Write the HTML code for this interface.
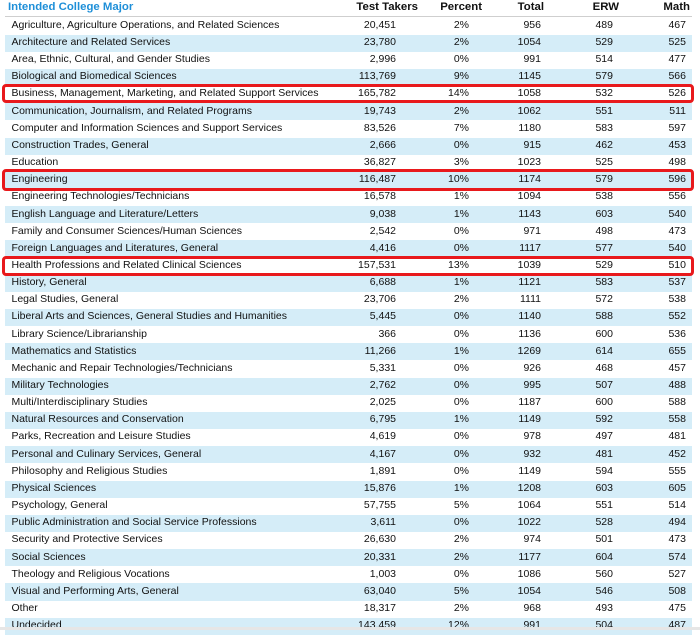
<!DOCTYPE html>
<html>
<head>
<meta charset="utf-8">
<style>
html,body{margin:0;padding:0;background:#fff;}
body{width:700px;height:630px;position:relative;overflow:hidden;font-family:"Liberation Sans",Arial,sans-serif;color:#111;}
.hd{position:absolute;left:5px;width:687px;top:-1px;height:16px;line-height:16px;font-size:11.4px;font-weight:bold;}
.hd span{position:absolute;top:0;white-space:nowrap;}
.hline{position:absolute;left:5px;width:687px;top:16px;height:1px;background:#cfcfcf;}
.r{position:absolute;left:5px;width:687px;height:17.15px;line-height:17.15px;font-size:10.5px;}
.r span{position:absolute;top:-0.6px;white-space:nowrap;}
.b{background:#d5edf8;}
.l{left:6.5px;}
.c1{right:296px;}
.c2{right:223px;}
.c3{right:151px;}
.c4{right:79px;}
.c5{right:6px;}
.box{position:absolute;left:2px;width:686px;border:3px solid #e8191c;border-radius:4px;}
.foot{position:absolute;left:0;top:627px;width:700px;height:3px;background:#e6e6e6;}
</style>
</head>
<body>
<div class="hd">
<span style="left:3px;color:#1e8fd8;">Intended College Major</span>
<span style="right:274px;">Test Takers</span>
<span style="right:210px;">Percent</span>
<span style="right:148px;">Total</span>
<span style="right:73px;">ERW</span>
<span style="right:2px;">Math</span>
</div>
<div class="hline"></div>

<div class="r" style="top:17.45px"><span class="l">Agriculture, Agriculture Operations, and Related Sciences</span><span class="c1">20,451</span><span class="c2">2%</span><span class="c3">956</span><span class="c4">489</span><span class="c5">467</span></div>
<div class="r b" style="top:34.6px"><span class="l">Architecture and Related Services</span><span class="c1">23,780</span><span class="c2">2%</span><span class="c3">1054</span><span class="c4">529</span><span class="c5">525</span></div>
<div class="r" style="top:51.75px"><span class="l">Area, Ethnic, Cultural, and Gender Studies</span><span class="c1">2,996</span><span class="c2">0%</span><span class="c3">991</span><span class="c4">514</span><span class="c5">477</span></div>
<div class="r b" style="top:68.9px"><span class="l">Biological and Biomedical Sciences</span><span class="c1">113,769</span><span class="c2">9%</span><span class="c3">1145</span><span class="c4">579</span><span class="c5">566</span></div>
<div class="r" style="top:86.05px"><span class="l">Business, Management, Marketing, and Related Support Services</span><span class="c1">165,782</span><span class="c2">14%</span><span class="c3">1058</span><span class="c4">532</span><span class="c5">526</span></div>
<div class="r b" style="top:103.2px"><span class="l">Communication, Journalism, and Related Programs</span><span class="c1">19,743</span><span class="c2">2%</span><span class="c3">1062</span><span class="c4">551</span><span class="c5">511</span></div>
<div class="r" style="top:120.35px"><span class="l">Computer and Information Sciences and Support Services</span><span class="c1">83,526</span><span class="c2">7%</span><span class="c3">1180</span><span class="c4">583</span><span class="c5">597</span></div>
<div class="r b" style="top:137.5px"><span class="l">Construction Trades, General</span><span class="c1">2,666</span><span class="c2">0%</span><span class="c3">915</span><span class="c4">462</span><span class="c5">453</span></div>
<div class="r" style="top:154.65px"><span class="l">Education</span><span class="c1">36,827</span><span class="c2">3%</span><span class="c3">1023</span><span class="c4">525</span><span class="c5">498</span></div>
<div class="r b" style="top:171.8px"><span class="l">Engineering</span><span class="c1">116,487</span><span class="c2">10%</span><span class="c3">1174</span><span class="c4">579</span><span class="c5">596</span></div>
<div class="r" style="top:188.95px"><span class="l">Engineering Technologies/Technicians</span><span class="c1">16,578</span><span class="c2">1%</span><span class="c3">1094</span><span class="c4">538</span><span class="c5">556</span></div>
<div class="r b" style="top:206.1px"><span class="l">English Language and Literature/Letters</span><span class="c1">9,038</span><span class="c2">1%</span><span class="c3">1143</span><span class="c4">603</span><span class="c5">540</span></div>
<div class="r" style="top:223.25px"><span class="l">Family and Consumer Sciences/Human Sciences</span><span class="c1">2,542</span><span class="c2">0%</span><span class="c3">971</span><span class="c4">498</span><span class="c5">473</span></div>
<div class="r b" style="top:240.4px"><span class="l">Foreign Languages and Literatures, General</span><span class="c1">4,416</span><span class="c2">0%</span><span class="c3">1117</span><span class="c4">577</span><span class="c5">540</span></div>
<div class="r" style="top:257.55px"><span class="l">Health Professions and Related Clinical Sciences</span><span class="c1">157,531</span><span class="c2">13%</span><span class="c3">1039</span><span class="c4">529</span><span class="c5">510</span></div>
<div class="r b" style="top:274.7px"><span class="l">History, General</span><span class="c1">6,688</span><span class="c2">1%</span><span class="c3">1121</span><span class="c4">583</span><span class="c5">537</span></div>
<div class="r" style="top:291.85px"><span class="l">Legal Studies, General</span><span class="c1">23,706</span><span class="c2">2%</span><span class="c3">1111</span><span class="c4">572</span><span class="c5">538</span></div>
<div class="r b" style="top:309px"><span class="l">Liberal Arts and Sciences, General Studies and Humanities</span><span class="c1">5,445</span><span class="c2">0%</span><span class="c3">1140</span><span class="c4">588</span><span class="c5">552</span></div>
<div class="r" style="top:326.15px"><span class="l">Library Science/Librarianship</span><span class="c1">366</span><span class="c2">0%</span><span class="c3">1136</span><span class="c4">600</span><span class="c5">536</span></div>
<div class="r b" style="top:343.3px"><span class="l">Mathematics and Statistics</span><span class="c1">11,266</span><span class="c2">1%</span><span class="c3">1269</span><span class="c4">614</span><span class="c5">655</span></div>
<div class="r" style="top:360.45px"><span class="l">Mechanic and Repair Technologies/Technicians</span><span class="c1">5,331</span><span class="c2">0%</span><span class="c3">926</span><span class="c4">468</span><span class="c5">457</span></div>
<div class="r b" style="top:377.6px"><span class="l">Military Technologies</span><span class="c1">2,762</span><span class="c2">0%</span><span class="c3">995</span><span class="c4">507</span><span class="c5">488</span></div>
<div class="r" style="top:394.75px"><span class="l">Multi/Interdisciplinary Studies</span><span class="c1">2,025</span><span class="c2">0%</span><span class="c3">1187</span><span class="c4">600</span><span class="c5">588</span></div>
<div class="r b" style="top:411.9px"><span class="l">Natural Resources and Conservation</span><span class="c1">6,795</span><span class="c2">1%</span><span class="c3">1149</span><span class="c4">592</span><span class="c5">558</span></div>
<div class="r" style="top:429.05px"><span class="l">Parks, Recreation and Leisure Studies</span><span class="c1">4,619</span><span class="c2">0%</span><span class="c3">978</span><span class="c4">497</span><span class="c5">481</span></div>
<div class="r b" style="top:446.2px"><span class="l">Personal and Culinary Services, General</span><span class="c1">4,167</span><span class="c2">0%</span><span class="c3">932</span><span class="c4">481</span><span class="c5">452</span></div>
<div class="r" style="top:463.35px"><span class="l">Philosophy and Religious Studies</span><span class="c1">1,891</span><span class="c2">0%</span><span class="c3">1149</span><span class="c4">594</span><span class="c5">555</span></div>
<div class="r b" style="top:480.5px"><span class="l">Physical Sciences</span><span class="c1">15,876</span><span class="c2">1%</span><span class="c3">1208</span><span class="c4">603</span><span class="c5">605</span></div>
<div class="r" style="top:497.65px"><span class="l">Psychology, General</span><span class="c1">57,755</span><span class="c2">5%</span><span class="c3">1064</span><span class="c4">551</span><span class="c5">514</span></div>
<div class="r b" style="top:514.8px"><span class="l">Public Administration and Social Service Professions</span><span class="c1">3,611</span><span class="c2">0%</span><span class="c3">1022</span><span class="c4">528</span><span class="c5">494</span></div>
<div class="r" style="top:531.95px"><span class="l">Security and Protective Services</span><span class="c1">26,630</span><span class="c2">2%</span><span class="c3">974</span><span class="c4">501</span><span class="c5">473</span></div>
<div class="r b" style="top:549.1px"><span class="l">Social Sciences</span><span class="c1">20,331</span><span class="c2">2%</span><span class="c3">1177</span><span class="c4">604</span><span class="c5">574</span></div>
<div class="r" style="top:566.25px"><span class="l">Theology and Religious Vocations</span><span class="c1">1,003</span><span class="c2">0%</span><span class="c3">1086</span><span class="c4">560</span><span class="c5">527</span></div>
<div class="r b" style="top:583.4px"><span class="l">Visual and Performing Arts, General</span><span class="c1">63,040</span><span class="c2">5%</span><span class="c3">1054</span><span class="c4">546</span><span class="c5">508</span></div>
<div class="r" style="top:600.55px"><span class="l">Other</span><span class="c1">18,317</span><span class="c2">2%</span><span class="c3">968</span><span class="c4">493</span><span class="c5">475</span></div>
<div class="r b" style="top:617.7px"><span class="l">Undecided</span><span class="c1">143,459</span><span class="c2">12%</span><span class="c3">991</span><span class="c4">504</span><span class="c5">487</span></div>

<div class="box" style="top:84px;height:13px;"></div>
<div class="box" style="top:168.5px;height:16px;"></div>
<div class="box" style="top:255.5px;height:14px;"></div>

<div class="foot"></div>
</body>
</html>
